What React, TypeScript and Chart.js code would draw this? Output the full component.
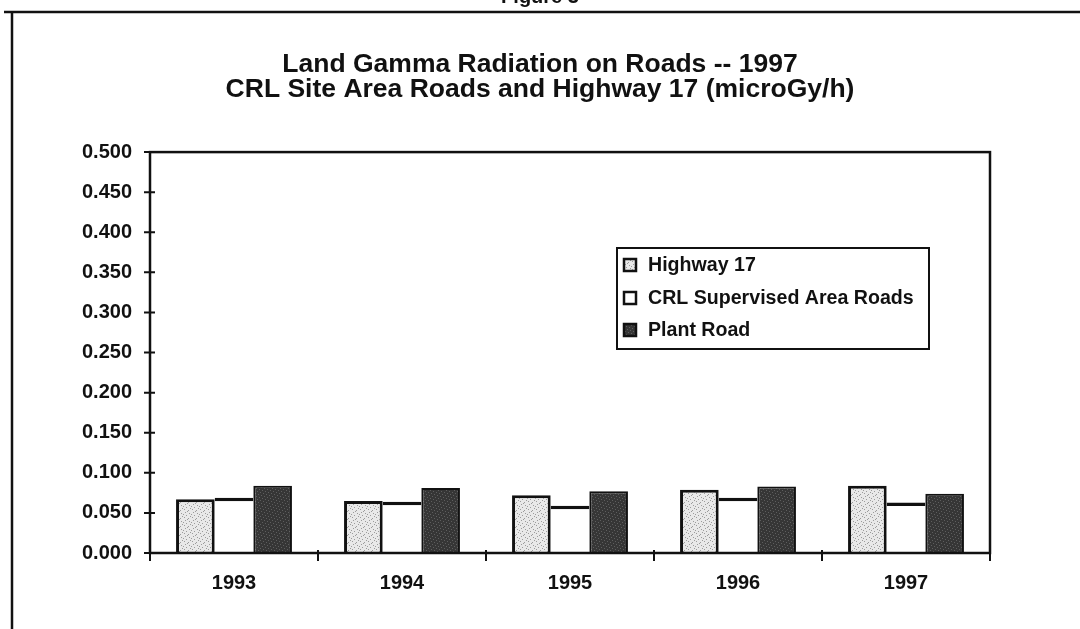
import React, { useEffect, useRef } from "react";
import { Chart, registerables } from "chart.js";

Chart.register(...registerables);

// ---- data ----
const categories = ["1993", "1994", "1995", "1996", "1997"];
const highway17 = [0.067, 0.065, 0.072, 0.079, 0.084];
const crlSupervised = [0.069, 0.064, 0.059, 0.069, 0.063];
const plantRoad = [0.084, 0.081, 0.077, 0.083, 0.074];
const seriesLabels = ["Highway 17", "CRL Supervised Area Roads", "Plant Road"];
const titleLines = [
  "Land Gamma Radiation on Roads -- 1997",
  "CRL Site Area Roads and Highway 17 (microGy/h)",
];
const figureLabel = "Figure 3";
const yMin = 0;
const yMax = 0.5;
const yStep = 0.05;

const FONT = "'Liberation Sans', Arial, Helvetica, sans-serif";

function makePattern(bg: string, dot: string, dots: number[][]) {
  const c = document.createElement("canvas");
  c.width = 8;
  c.height = 8;
  const x = c.getContext("2d")!;
  x.fillStyle = bg;
  x.fillRect(0, 0, 8, 8);
  x.fillStyle = dot;
  for (const [a, b] of dots) x.fillRect(a, b, 1, 1);
  return x.createPattern(c, "repeat")!;
}

const lightDots = [
  [1, 0], [5, 1], [2, 3], [6, 4], [0, 5], [4, 6], [3, 7], [7, 2],
];
const darkDots = [
  [0, 0], [3, 1], [6, 2], [1, 3], [4, 4], [7, 5], [2, 6], [5, 7],
];

const framePlugin = {
  id: "frame",
  beforeDraw(chart: any) {
    const ctx = chart.ctx;
    ctx.save();
    ctx.fillStyle = "#ffffff";
    ctx.fillRect(0, 0, chart.width, chart.height);
    ctx.strokeStyle = "#111";
    ctx.lineWidth = 2.5;
    ctx.beginPath();
    ctx.moveTo(4, 12);
    ctx.lineTo(chart.width, 12);
    ctx.moveTo(12, 12);
    ctx.lineTo(12, chart.height);
    ctx.stroke();
    ctx.fillStyle = "#111";
    ctx.font = `bold 20px ${FONT}`;
    ctx.textAlign = "center";
    ctx.textBaseline = "bottom";
    ctx.fillText(figureLabel, chart.width / 2, 7);
    ctx.restore();
  },
};

const axesPlugin = {
  id: "axesAndLegend",
  afterDraw(chart: any) {
    const ctx = chart.ctx;
    const { left, right, top, bottom } = chart.chartArea;
    const ys = chart.scales.y;
    ctx.save();
    ctx.strokeStyle = "#111";
    // plot border
    ctx.lineWidth = 2.5;
    ctx.strokeRect(left, top, right - left, bottom - top);
    // y ticks
    ctx.lineWidth = 2;
    ctx.beginPath();
    for (const t of ys.ticks) {
      const y = ys.getPixelForValue(t.value);
      ctx.moveTo(left - 6, y);
      ctx.lineTo(left + 5, y);
    }
    // x ticks at category boundaries
    const n = categories.length;
    for (let i = 0; i <= n; i++) {
      const x = left + ((right - left) * i) / n;
      ctx.moveTo(x, bottom - 3);
      ctx.lineTo(x, bottom + 8);
    }
    ctx.stroke();

    // legend box
    const bx = 617, by = 248, bw = 312, bh = 101;
    ctx.fillStyle = "#ffffff";
    ctx.fillRect(bx, by, bw, bh);
    ctx.lineWidth = 2;
    ctx.strokeRect(bx, by, bw, bh);
    const rowY = [265, 298, 330];
    const ds = chart.data.datasets;
    ctx.font = `bold 19.6px ${FONT}`;
    ctx.textBaseline = "middle";
    ctx.textAlign = "left";
    for (let i = 0; i < ds.length; i++) {
      const y = rowY[i];
      ctx.fillStyle = ds[i].backgroundColor;
      ctx.fillRect(624, y - 6, 12, 12);
      ctx.lineWidth = 2.5;
      ctx.strokeStyle = "#111";
      ctx.strokeRect(624, y - 6, 12, 12);
      ctx.fillStyle = "#111";
      ctx.fillText(ds[i].label, 648, y + 1);
    }
    ctx.restore();
  },
};

export default function App() {
  const ref = useRef<HTMLCanvasElement | null>(null);
  useEffect(() => {
    if (!ref.current) return;
    const lightPat = makePattern("#e9e9e9", "#9c9c9c", lightDots);
    const darkPat = makePattern("#363636", "#5e5e5e", darkDots);
    const chart = new Chart(ref.current, {
      type: "bar",
      data: {
        labels: categories,
        datasets: [
          {
            label: seriesLabels[0],
            data: highway17,
            backgroundColor: lightPat as any,
            borderColor: "#111",
            borderWidth: 3,
          },
          {
            label: seriesLabels[1],
            data: crlSupervised,
            backgroundColor: "#ffffff",
            borderColor: "#111",
            borderWidth: { top: 3.5, left: 0, right: 0, bottom: 0 } as any,
          },
          {
            label: seriesLabels[2],
            data: plantRoad,
            backgroundColor: darkPat as any,
            borderColor: "#111",
            borderWidth: 2,
          },
        ],
      },
      options: {
        responsive: false,
        animation: false,
        layout: { padding: 0 },
        datasets: {
          bar: { categoryPercentage: 0.69, barPercentage: 1.0 },
        },
        plugins: {
          legend: { display: false },
          tooltip: { enabled: false },
          title: {
            display: true,
            text: titleLines,
            color: "#111",
            font: { family: FONT, size: 26.5, weight: "bold", lineHeight: 0.945 },
            padding: { top: 52, bottom: 50 },
          },
        },
        scales: {
          x: {
            type: "category",
            grid: { display: false, drawTicks: false },
            border: { display: false },
            ticks: {
              color: "#111",
              padding: 18,
              font: { family: FONT, size: 20, weight: "bold" },
            },
            afterFit: (s: any) => {
              s.height = 76;
            },
          },
          y: {
            min: yMin,
            max: yMax,
            grid: { display: false, drawTicks: false },
            border: { display: false },
            ticks: {
              stepSize: yStep,
              color: "#111",
              padding: 18,
              font: { family: FONT, size: 20, weight: "bold" },
              callback: (v: any) => Number(v).toFixed(3),
            },
            afterFit: (s: any) => {
              s.width = 150;
            },
          },
          y2: {
            position: "right",
            grid: { display: false, drawTicks: false },
            border: { display: false },
            ticks: { display: false },
            afterFit: (s: any) => {
              s.width = 90;
            },
          },
        },
      },
      plugins: [framePlugin, axesPlugin],
    });
    return () => chart.destroy();
  }, []);

  return (
    <div style={{ position: "fixed", left: 0, top: 0, width: 1080, height: 629, background: "#fff" }}>
      <canvas ref={ref} width={1080} height={629} style={{ display: "block" }} />
    </div>
  );
}
